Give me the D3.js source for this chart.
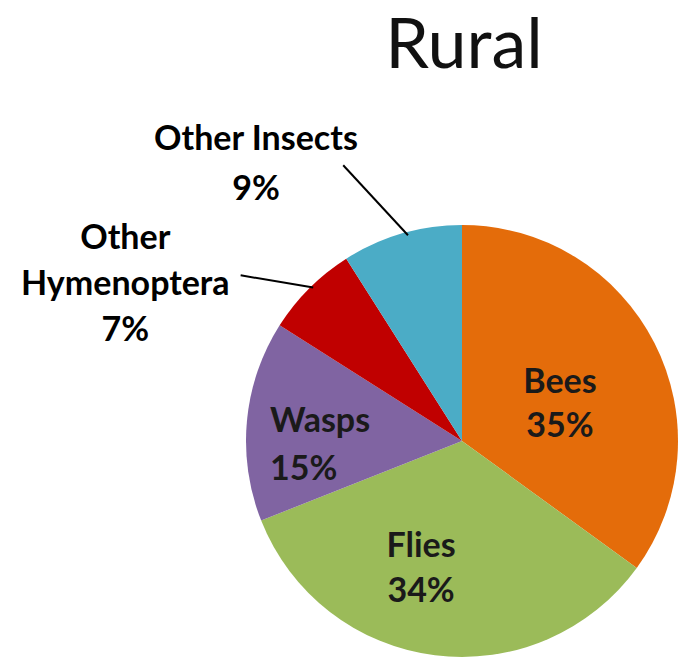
<!DOCTYPE html>
<html>
<head>
<meta charset="utf-8">
<script src="https://cdn.jsdelivr.net/npm/d3@7"></script>
<style>
  html, body { margin: 0; padding: 0; background: #fff; }
  svg { display: block; }
</style>
</head>
<body>
<svg id="chart" width="679" height="670"></svg>
<script>
const title = "Rural";
const categories = ["Bees", "Flies", "Wasps", "Other Hymenoptera", "Other Insects"];
const values = [35, 34, 15, 7, 9];
const colors = ["#E46C0A", "#9BBB59", "#8064A2", "#C00000", "#4BACC6"];
const labelLines = [["Bees", "35%"], ["Flies", "34%"], ["Wasps", "15%"], ["Other", "Hymenoptera", "7%"], ["Other Insects", "9%"]];

const W = 679, H = 670;
const cx = 462, cy = 441, R = 216;
const font = "Lato, 'Open Sans', sans-serif";

const svg = d3.select("#chart");
const data = categories.map((c, i) => ({ name: c, value: values[i], color: colors[i], lines: labelLines[i] }));

const pie = d3.pie().value(d => d.value).sort(null).startAngle(0).endAngle(2 * Math.PI);
const arcs = pie(data);
const arc = d3.arc().innerRadius(0).outerRadius(R);

const g = svg.append("g").attr("transform", `translate(${cx},${cy})`);
g.selectAll("path").data(arcs).join("path")
  .attr("d", arc)
  .attr("fill", d => d.data.color);

// title
svg.append("text")
  .attr("x", 464).attr("y", 68)
  .attr("text-anchor", "middle")
  .attr("font-family", font).attr("font-size", 70)
  .attr("fill", "#111")
  .text(title);

// label layout (polar placement relative to each slice's mid angle)
const layout = {
  "Bees":  { r: 0.485, da: 0.110, anchor: "middle", lh: 44 },
  "Flies": { r: 0.62, da: 0.185, anchor: "middle", lh: 45 },
  "Wasps": { r: 0.889, da: -0.115, anchor: "start", lh: 48 },
  "Other Hymenoptera": { r: 1.72, da: -0.349, anchor: "middle", lh: 46,
    line: { fromR: 0.99, fromDa: 0.016, toR: 1.28, toDa: -0.143 } },
  "Other Insects": { r: 1.60, da: -0.356, anchor: "middle", lh: 50,
    line: { fromR: 0.985, fromDa: 0.026, toR: 1.39, toDa: -0.124 } }
};

arcs.forEach(a => {
  const L = layout[a.data.name];
  const mid = (a.startAngle + a.endAngle) / 2;
  const [lx, ly] = d3.pointRadial(mid + L.da, R * L.r);
  const n = a.data.lines.length;
  const t = g.append("text")
    .attr("font-family", font).attr("font-weight", "bold").attr("font-size", 34)
    .attr("fill", L.line ? "#000" : "#1a1a1a")
    .attr("text-anchor", L.anchor);
  a.data.lines.forEach((s, i) => {
    t.append("tspan").attr("x", lx).attr("y", ly + (i - (n - 1) / 2) * L.lh + 11).text(s);
  });
  if (L.line) {
    const p1 = d3.pointRadial(mid + L.line.fromDa, R * L.line.fromR);
    const p2 = d3.pointRadial(mid + L.line.toDa, R * L.line.toR);
    g.append("line")
      .attr("x1", p1[0]).attr("y1", p1[1]).attr("x2", p2[0]).attr("y2", p2[1])
      .attr("stroke", "#000").attr("stroke-width", 2);
  }
});
</script>
</body>
</html>
